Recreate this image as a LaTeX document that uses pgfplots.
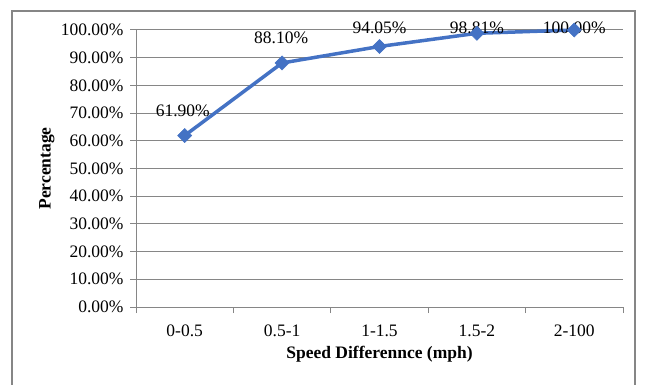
\documentclass[border=0pt]{standalone}
\usepackage{fontspec}
\setmainfont{Liberation Serif}
\usepackage{pgfplots}
\pgfplotsset{compat=1.18}
\definecolor{lineblue}{RGB}{68,114,196}
\definecolor{gridgray}{RGB}{134,134,134}
\begin{document}
\begin{tikzpicture}[x=1bp,y=1bp]
\path[use as bounding box] (0,0) rectangle (646,384);
\draw[color=gridgray, line width=1.2bp] (12,-5) -- (12,373) -- (635,373) -- (635,-5);
\begin{axis}[
  at={(136bp,77bp)}, anchor=south west,
  scale only axis, width=487bp, height=277bp,
  xmin=-0.5, xmax=4.5, ymin=0, ymax=100,
  axis x line*=bottom, axis y line*=left,
  axis line style={draw=gridgray, line width=1bp, -},
  xtick={0,1,2,3,4},
  xticklabels={0-0.5,0.5-1,1-1.5,1.5-2,2-100},
  minor xtick={-0.5,0.5,1.5,2.5,3.5,4.5},
  major x tick style={draw=none},
  minor x tick style={draw=gridgray, line width=1bp},
  minor tick length=6bp,
  ytick={0,10,...,100},
  yticklabels={0.00\%,10.00\%,20.00\%,30.00\%,40.00\%,50.00\%,60.00\%,70.00\%,80.00\%,90.00\%,100.00\%},
  major y tick style={draw=gridgray, line width=1bp},
  major tick length=6bp,
  tick align=outside,
  ymajorgrids, grid style={draw=gridgray, line width=1bp},
  tick label style={font=\fontsize{17.5bp}{20bp}\selectfont},
  xticklabel style={yshift=-8bp},
  yticklabel style={xshift=-3bp},
  xlabel={Speed Differennce (mph)},
  ylabel={Percentage},
  label style={font=\fontsize{17.5bp}{20bp}\selectfont\bfseries},
  xlabel style={at={(axis description cs:0.5,0)}, anchor=center, yshift=-47bp},
  ylabel style={at={(axis description cs:-0.183,0.5)}, anchor=center},
  clip=false,
]
\addplot[color=lineblue, line width=3.5bp, mark=square*, mark size=5bp,
  mark options={rotate=45, fill=lineblue, draw=lineblue, line width=0.5bp}]
  coordinates {(0,61.90) (1,88.10) (2,94.05) (3,98.81) (4,100.00)};
\begin{scope}[every node/.style={font=\fontsize{17.5bp}{20bp}\selectfont, anchor=center, inner sep=0pt}]
\node at (axis cs:-0.02,70.9) {61.90\%};
\node at (axis cs:-0.01+1,97.1) {88.10\%};
\node at (axis cs:2,100.8) {94.05\%};
\node at (axis cs:3,100.8) {98.81\%};
\node at (axis cs:4,100.8) {100.00\%};
\end{scope}
\end{axis}
\end{tikzpicture}
\end{document}
